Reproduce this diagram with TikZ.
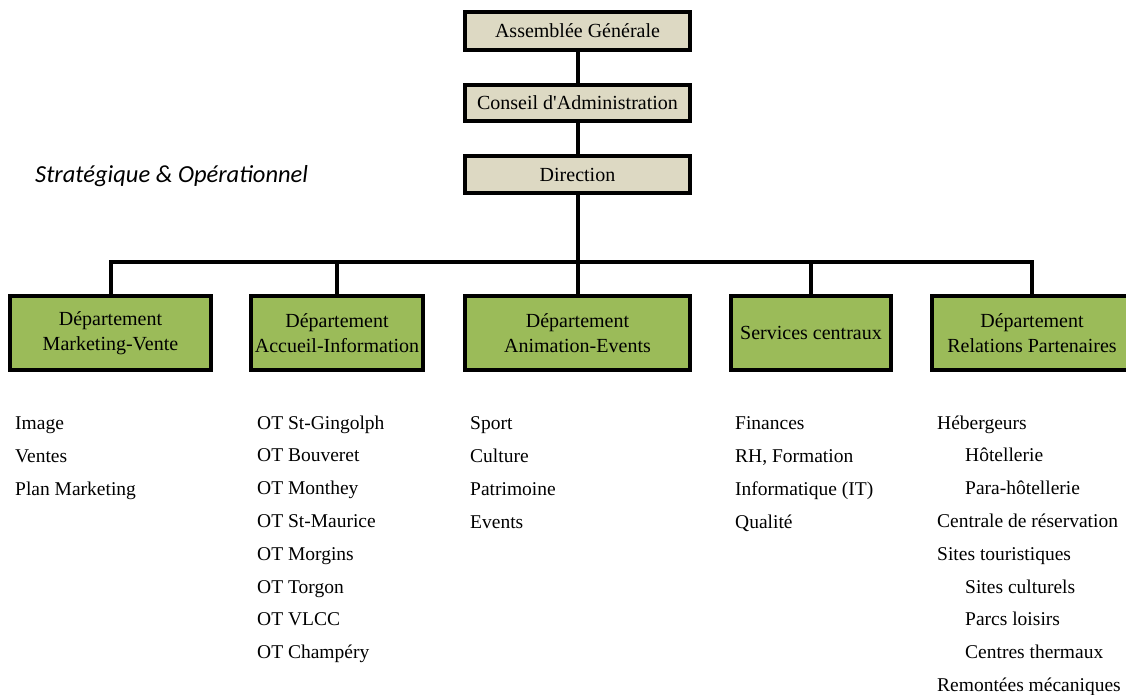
\documentclass[tikz,border=0pt]{standalone}
\usepackage{fontspec}
\setmainfont{Liberation Serif}[Ligatures=TeXOff]
\newfontfamily\labelfont{Carlito}
\definecolor{boardfill}{HTML}{DDD9C3}
\definecolor{deptfill}{HTML}{9BBB59}
\begin{document}
\begin{tikzpicture}[x=1pt,y=-1pt,
  base/.style={draw=black,line width=4pt,outer sep=0pt,inner sep=0pt,
    font=\fontsize{20}{25}\selectfont,align=center},
  board/.style={base,fill=boardfill,minimum width=225pt,line width=4.5pt},
  dept/.style={base,fill=deptfill,minimum height=74pt},
  conn/.style={line width=4pt,line join=miter},
  item/.style={anchor=base west,inner sep=0pt,font=\fontsize{19.5}{24}\selectfont}]
\useasboundingbox (0,0) rectangle (1126,695);

% governance chain
\node[board,minimum height=38pt] (ag)  at (577.5,31)  {Assemblée Générale};
\node[board,minimum height=36pt] (ca)  at (577.5,103) {Conseil d'Administration};
\node[board,minimum height=37pt] (dir) at (577.5,174.5) {Direction};

\node[anchor=west,inner sep=0pt,font=\labelfont\itshape\fontsize{24.5}{28}\selectfont] (tag) at (35,176) {Stratégique \& Opérationnel};

% departments
\node[dept,minimum width=201pt] (m1) at (110.5,333) {Département\\Marketing-Vente};
\node[dept,minimum width=172pt] (m2) at (337,333) {Département\\Accueil-Information};
\node[dept,minimum width=225pt] (m3) at (577.5,333) {Département\\Animation-Events};
\node[dept,minimum width=160pt] (m4) at (811,333) {Services centraux};
\node[dept,minimum width=200pt] (m5) at (1032,333) {Département\\Relations Partenaires};

% connectors
\coordinate (bus) at (577.5,262);
\draw[conn] (ag) -- (ca);
\draw[conn] (ca) -- (dir);
\draw[conn] (dir) -- (bus);
\draw[conn] (m1.north) -- (m1.north |- bus) -- (m5.north |- bus) -- (m5.north);
\draw[conn] (m2.north) -- (m2.north |- bus);
\draw[conn] (m3.north) -- (bus);
\draw[conn] (m4.north) -- (m4.north |- bus);

% lists under each department
\foreach \t [count=\i from 0] in {Image,Ventes,Plan Marketing}
  \node[item] (a\i) at (15,429+33*\i) {\t};
\foreach \t [count=\i from 0] in {OT St-Gingolph,OT Bouveret,OT Monthey,OT St-Maurice,OT Morgins,OT Torgon,OT VLCC,OT Champéry}
  \node[item] (b\i) at (257,429+32.8*\i) {\t};
\foreach \t [count=\i from 0] in {Sport,Culture,Patrimoine,Events}
  \node[item] (c\i) at (470,429+33*\i) {\t};
\foreach \t [count=\i from 0] in {Finances,{RH, Formation},Informatique (IT),Qualité}
  \node[item] (d\i) at (735,429+33*\i) {\t};
\foreach \t/\x [count=\i from 0] in {Hébergeurs/937,Hôtellerie/965,Para-hôtellerie/965,Centrale de réservation/937,Sites touristiques/937,Sites culturels/965,Parcs loisirs/965,Centres thermaux/965,Remontées mécaniques/937}
  \node[item] (e\i) at (\x,429+32.8*\i) {\t};
\end{tikzpicture}
\end{document}
